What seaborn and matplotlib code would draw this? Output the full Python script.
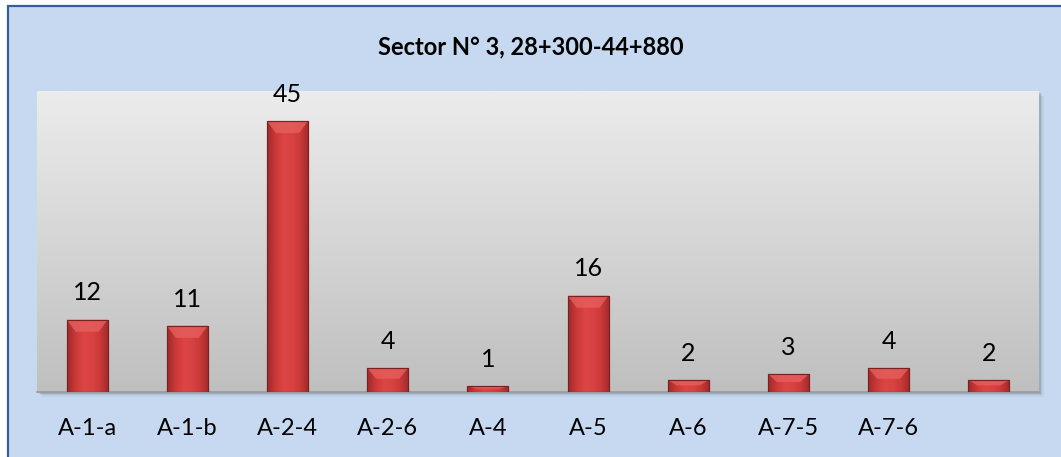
import numpy as np
import pandas as pd
import matplotlib
matplotlib.use("Agg")
import matplotlib.pyplot as plt
from matplotlib.patches import Rectangle, Polygon
import seaborn as sns

# Defect counts per code along the sector
categories = ["A-1-a", "A-1-b", "A-2-4", "A-2-6", "A-4", "A-5", "A-6", "A-7-5", "A-7-6", "A-8"]
tick_labels = ["A-1-a", "A-1-b", "A-2-4", "A-2-6", "A-4", "A-5", "A-6", "A-7-5", "A-7-6", ""]
counts = [12, 11, 45, 4, 1, 16, 2, 3, 4, 2]
title = "Sector N° 3, 28+300-44+880"

sns.set_theme(style="white")
plt.rcParams["font.family"] = ["Lato", "DejaVu Sans"]

W, H = 1061, 457
fig = plt.figure(figsize=(W / 100, H / 100), dpi=100)
fig.patch.set_facecolor("white")

# Chart area panel with a dark blue frame
fig.patches.append(Rectangle((8 / W, -0.02), 1.05, (H - 6) / H + 0.02, transform=fig.transFigure,
                             facecolor="#c6d9f0", edgecolor="#365f9a", linewidth=1.6, zorder=-3))

left, right, top, bottom = 37, 1039, 91, 392
ax = fig.add_axes([left / W, (H - bottom) / H, (right - left) / W, (bottom - top) / H])

# soft drop shadow beneath the plot area
for i, a in enumerate([0.10, 0.07, 0.04]):
    off = (i + 1) * 1.5
    fig.patches.append(Rectangle(((left + off) / W, (H - bottom - off) / H), (right - left) / W,
                                 (bottom - top) / H, transform=fig.transFigure,
                                 facecolor="black", alpha=a, edgecolor="none", zorder=-2))

df = pd.DataFrame({"code": categories, "count": counts})
sns.barplot(data=df, x="code", y="count", order=categories, color="#d23c3b",
            width=0.41, saturation=1, ax=ax, zorder=3, edgecolor="#7a2020", linewidth=0.8)

# vertical gray gradient on the plot area
grad = np.linspace(0, 1, 256).reshape(-1, 1)
cmap_bg = matplotlib.colors.LinearSegmentedColormap.from_list("bg", ["#bfbfbf", "#ececec"])
ax.imshow(grad, extent=(-0.5, len(categories) - 0.5, 0, 50), origin="lower", aspect="auto",
          cmap=cmap_bg, zorder=0)

# horizontal shading and top bevel on every bar
cmap_bar = matplotlib.colors.LinearSegmentedColormap.from_list(
    "bar", ["#9e2a2a", "#c93838", "#dc4544", "#d94242", "#c93838", "#9e2a2a"])
hgrad = np.linspace(0, 1, 256).reshape(1, -1)
px_per_unit = (bottom - top) / 50
for p in list(ax.patches):
    x0, w, h = p.get_x(), p.get_width(), p.get_height()
    im = ax.imshow(hgrad, extent=(x0, x0 + w, 0, h), aspect="auto", cmap=cmap_bar, zorder=3.1)
    im.set_clip_path(p)
    bev = min(h * 0.45, 12 / px_per_unit)
    inset = w * 0.22
    ax.add_patch(Polygon([(x0, h), (x0 + w, h), (x0 + w - inset, h - bev), (x0 + inset, h - bev)],
                         closed=True, facecolor="#e65f5d", edgecolor="none", alpha=0.8, zorder=3.2))
    ax.add_patch(Rectangle((x0, 0), w, h, facecolor="none", edgecolor="#7a2020", linewidth=0.8, zorder=3.3))

ax.set_xlim(-0.5, len(categories) - 0.5)
ax.set_ylim(0, 50)
ax.bar_label(ax.containers[0], labels=[str(v) for v in counts], padding=11, fontsize=18, color="black")

ax.set_xticks(range(len(categories)))
ax.set_xticklabels(tick_labels, fontsize=17, color="black")
ax.tick_params(axis="x", length=0, pad=19)
ax.set_yticks([])
ax.set_xlabel("")
ax.set_ylabel("")
for s in ["top", "left", "right"]:
    ax.spines[s].set_visible(False)
ax.spines["bottom"].set_color("#9a9a9a")
ax.spines["bottom"].set_linewidth(1.2)

fig.text(0.5, (H - 47) / H, title, ha="center", va="center", fontsize=17, fontweight="bold", color="black")

fig.savefig("out.png", dpi=100)
